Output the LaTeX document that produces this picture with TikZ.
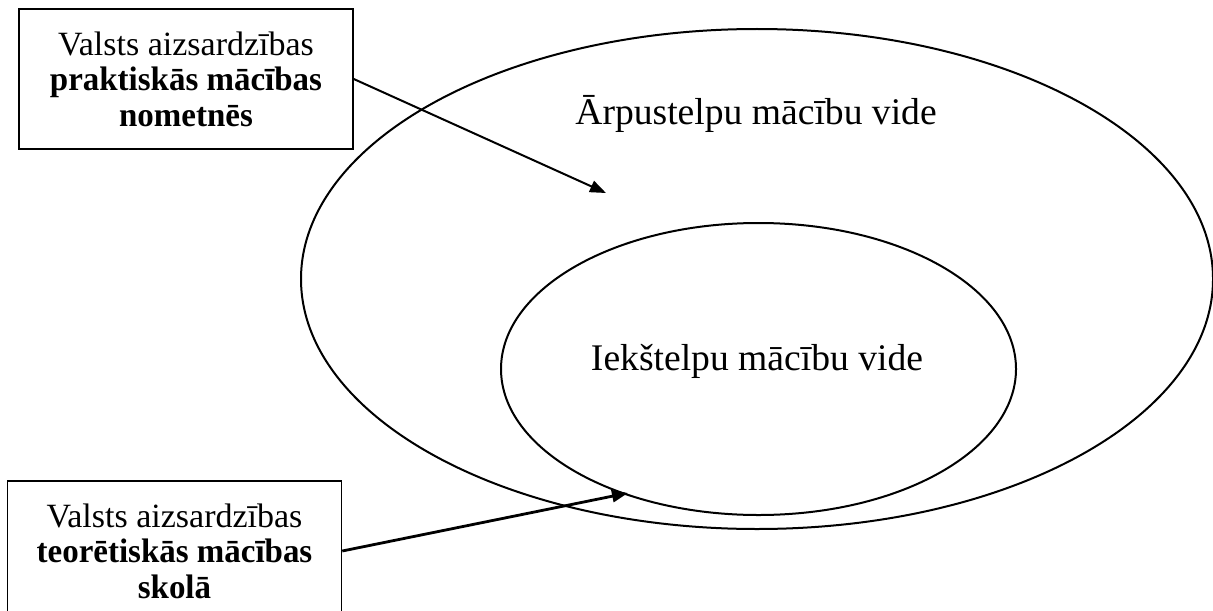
\documentclass[tikz,border=0pt]{standalone}
\usepackage{fontspec}
\setmainfont{Liberation Serif}[BoldFeatures={FakeStretch=0.97}]
\usetikzlibrary{shapes.geometric,arrows.meta}
\tikzset{
  envell/.style={draw, ellipse, line width=1pt, inner sep=0pt},
  envlabel/.style={anchor=base, inner sep=0pt, font=\fontsize{18.8pt}{22pt}\selectfont},
  infobox/.style={draw, line width=0.75pt, minimum width=167pt, minimum height=70pt, inner sep=0pt, align=center, font=\fontsize{17pt}{17.8pt}\selectfont},
  pointer/.style={line width=1pt, -{Triangle[length=8pt,width=6pt]}},
}
\begin{document}
\begin{tikzpicture}[x=0.5pt,y=-0.5pt]
\useasboundingbox (0,0) rectangle (1213,610);
\clip (0,0) rectangle (1213,610);
\fill[white] (0,0) rectangle (1213,610);
\node[envell, minimum width=456pt, minimum height=250pt] (outer) at (757,279) {};
\node[envell, minimum width=257.5pt, minimum height=146pt] (inner) at (758.5,369) {};
\node[envlabel] (outerlbl) at (756,125) {Ārpustelpu mācību vide};
\node[envlabel] (innerlbl) at (757,370) {Iekštelpu mācību vide};
\node[infobox] (top) at (186,79) {Valsts aizsardzības\\\textbf{praktiskās mācības}\\\textbf{nometnēs}};
\node[infobox] (bot) at (174.5,551) {Valsts aizsardzības\\\textbf{teorētiskās mācības}\\\textbf{skolā}};
\coordinate (tipA) at (606,193);
\coordinate (tipB) at (628,493);
\draw[pointer] (top.east) -- (tipA);
\draw[pointer, line width=1.4pt] (bot.east) -- (tipB);
\end{tikzpicture}
\end{document}
